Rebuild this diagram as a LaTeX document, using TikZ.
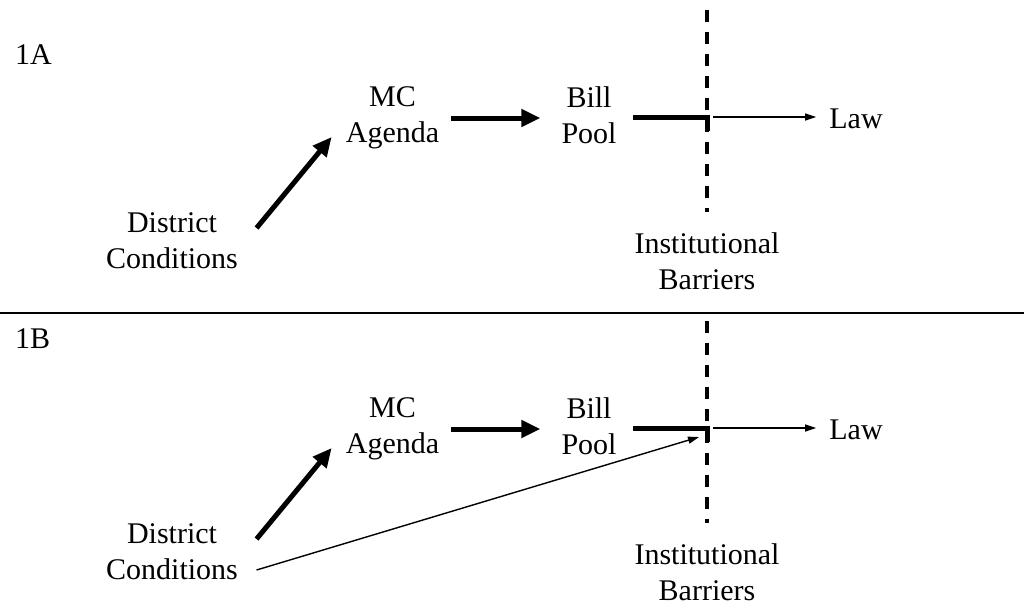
\documentclass[tikz,border=0pt]{standalone}
\usepackage{fontspec}
\setmainfont{Liberation Serif}
\usetikzlibrary{arrows.meta,calc}
\tikzset{
	stage text/.style={inner sep=0pt, align=center, font=\fontsize{30}{36}\selectfont},
	big arrow/.style={line width=5pt, -{Triangle[length=19pt,width=17pt]}},
	thin arrow/.style={line width=1.4pt, -{Triangle[length=11pt,width=7pt]}},
	barrier/.style={line width=3.6pt, dash pattern=on 12pt off 10pt},
	gate line/.style={line width=5pt},
}

\begin{document}
\begin{tikzpicture}[x=1pt,y=-1pt]
			%%%%% START %%%%%
			\useasboundingbox (0, 0) rectangle (1024, 606);
			
			%%%%% PANEL 1A %%%%%
			\node[stage text, anchor=base west] (tagA) at (15, 64) {1A};
			\node[stage text] (dcA) at (172, 240.75) {District\\Conditions};
			\node[stage text] (mcA) at (392.5, 118) {MC\\Agenda};
			\node[stage text] (bpA) at (589, 114.75) {Bill\\Pool};
			\node[stage text] (ibA) at (707, 260.75) {Institutional\\Barriers};
			\node[stage text, anchor=base] (lawA) at (856, 128) {Law};
			
			\coordinate (barTopA) at (707, 10);
			\coordinate (barEndA) at (707, 212);
			\coordinate (gateA) at (707, 117);
			
			\draw[barrier] (barTopA) -- (barEndA);
			\draw[big arrow] ([shift={(18.5,-12.75)}]dcA.east) -- ([shift={(-14,19)}]mcA.west);
			\draw[big arrow] ([xshift=12pt]mcA.east) -- ([xshift=-21pt]mcA.east -| bpA.west);
			\draw[gate line] ([xshift=16.5pt]gateA -| bpA.east) -- (gateA) -- ++(0, 14);
			\draw[thin arrow] ([xshift=6pt]gateA) -- ([xshift=-13pt]gateA -| lawA.west);
			
			%%%%% SEPARATOR %%%%%
			\draw[line width=2pt] (0, 313) -- (1024, 313);
			
			%%%%% PANEL 1B %%%%%
			\node[stage text, anchor=base west] (tagB) at (15, 348) {1B};
			\node[stage text] (dcB) at (172, 551.75) {District\\Conditions};
			\node[stage text] (mcB) at (392.5, 429) {MC\\Agenda};
			\node[stage text] (bpB) at (589, 425.75) {Bill\\Pool};
			\node[stage text] (ibB) at (707, 571.75) {Institutional\\Barriers};
			\node[stage text, anchor=base] (lawB) at (856, 439) {Law};
			
			\coordinate (barTopB) at (707, 321);
			\coordinate (barEndB) at (707, 523);
			\coordinate (gateB) at (707, 428);
			
			\draw[barrier] (barTopB) -- (barEndB);
			\draw[big arrow] ([shift={(18.5,-12.75)}]dcB.east) -- ([shift={(-14,19)}]mcB.west);
			\draw[big arrow] ([xshift=12pt]mcB.east) -- ([xshift=-21pt]mcB.east -| bpB.west);
			\draw[gate line] ([xshift=16.5pt]gateB -| bpB.east) -- (gateB) -- ++(0, 14);
			\draw[thin arrow] ([xshift=6pt]gateB) -- ([xshift=-13pt]gateB -| lawB.west);
			\draw[thin arrow] ([shift={(18.5,18.25)}]dcB.east) -- ([shift={(-8,9)}]gateB);
			%%%%% END %%%%%
\end{tikzpicture}
\end{document}
